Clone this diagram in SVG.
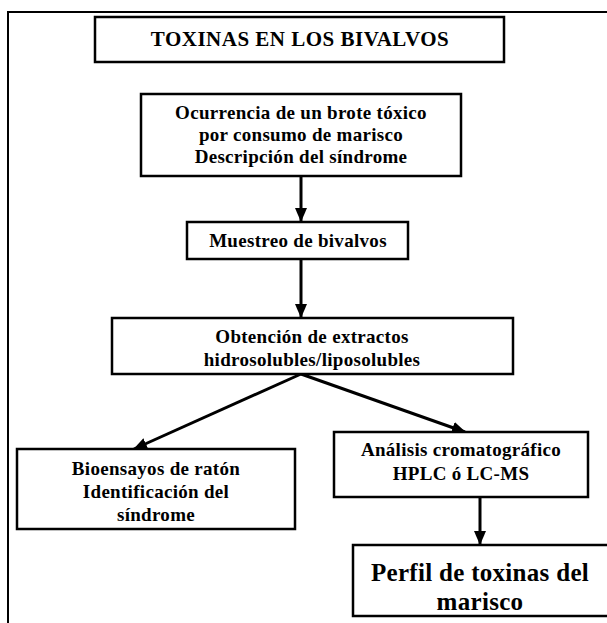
<svg xmlns="http://www.w3.org/2000/svg" width="607" height="623" viewBox="0 0 607 623">
<style>
.box{fill:#fff;stroke:#000;stroke-width:2.5}
.t{font-family:"Liberation Serif","Times New Roman",serif;font-weight:bold;font-size:19px;letter-spacing:0.3px;text-anchor:middle;fill:#000}
.c{stroke:#000;stroke-width:3;fill:none}
</style>
<defs>
<marker id="ah" markerUnits="userSpaceOnUse" markerWidth="14" markerHeight="14" viewBox="0 0 14 14" refX="13" refY="7" orient="auto">
<path d="M0,1 L14,7 L0,13 Z" fill="#000"/>
</marker>
</defs>
<rect width="607" height="623" fill="#fff"/>
<path d="M8,623 V12 H607" fill="none" stroke="#000" stroke-width="2"/>
<g id="connectors">
<line class="c" x1="301" y1="176" x2="301" y2="221" marker-end="url(#ah)"/>
<line class="c" x1="301" y1="259" x2="301" y2="317" marker-end="url(#ah)"/>
<line class="c" x1="301" y1="374" x2="134" y2="449" marker-end="url(#ah)"/>
<line class="c" x1="301" y1="374" x2="465" y2="432" marker-end="url(#ah)"/>
<line class="c" x1="480" y1="497" x2="480" y2="544" marker-end="url(#ah)"/>
</g>
<g id="title">
<rect class="box" x="95" y="17" width="409" height="45"/>
<text class="t" x="300" y="46" style="font-size:21px;letter-spacing:0.5px">TOXINAS EN LOS BIVALVOS</text>
</g>
<g id="ocurrencia">
<rect class="box" x="141" y="94" width="320" height="82"/>
<text class="t" x="301" y="119">Ocurrencia de un brote tóxico</text>
<text class="t" x="301" y="141">por consumo de marisco</text>
<text class="t" x="301" y="163">Descripción del síndrome</text>
</g>
<g id="muestreo">
<rect class="box" x="187" y="222" width="221" height="37"/>
<text class="t" x="298" y="247">Muestreo de bivalvos</text>
</g>
<g id="obtencion">
<rect class="box" x="112" y="318" width="401" height="56"/>
<text class="t" x="312" y="343">Obtención de extractos</text>
<text class="t" x="312" y="366">hidrosolubles/liposolubles</text>
</g>
<g id="bioensayos">
<rect class="box" x="17" y="449" width="278" height="80"/>
<text class="t" x="156" y="475">Bioensayos de ratón</text>
<text class="t" x="156" y="498">Identificación del</text>
<text class="t" x="156" y="521">síndrome</text>
</g>
<g id="analisis">
<rect class="box" x="334" y="432" width="254" height="65"/>
<text class="t" x="461" y="456">Análisis cromatográfico</text>
<text class="t" x="461" y="480">HPLC ó LC-MS</text>
</g>
<g id="perfil">
<rect class="box" x="353" y="545" width="262" height="71"/>
<text class="t" x="480" y="581" style="font-size:25px">Perfil de toxinas del</text>
<text class="t" x="480" y="610" style="font-size:25px">marisco</text>
</g>
</svg>
